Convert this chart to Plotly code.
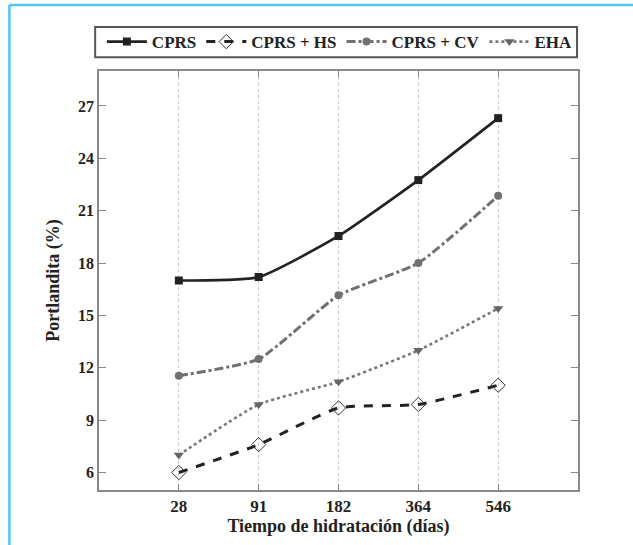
import plotly.graph_objects as go

categories = ["28", "91", "182", "364", "546"]
cprs = [17.0, 17.2, 19.55, 22.75, 26.3]
cprs_hs = [6.0, 7.6, 9.7, 9.9, 11.0]
cprs_cv = [11.55, 12.5, 16.15, 18.0, 21.85]
eha = [7.0, 9.9, 11.2, 13.0, 15.4]
y_ticks = [6, 9, 12, 15, 18, 21, 24, 27]

FONT = "Liberation Serif"
fig = go.Figure()
fig.add_trace(go.Scatter(x=categories, y=cprs, name="CPRS", mode="lines+markers",
                         line=dict(color="#222222", width=2.6, shape="spline", smoothing=0.5),
                         marker=dict(symbol="square", size=8, color="#222222")))
fig.add_trace(go.Scatter(x=categories, y=cprs_hs, name="CPRS + HS", mode="lines+markers",
                         line=dict(color="#222222", width=3, dash="dash", shape="spline", smoothing=0.5),
                         marker=dict(symbol="diamond-open", size=11, color="#333333", line=dict(width=1))))
fig.add_trace(go.Scatter(x=categories, y=cprs_cv, name="CPRS + CV", mode="lines+markers",
                         line=dict(color="#707070", width=3, dash="dashdot", shape="spline", smoothing=0.5),
                         marker=dict(symbol="circle", size=8, color="#707070")))
fig.add_trace(go.Scatter(x=categories, y=eha, name="EHA", mode="lines+markers",
                         line=dict(color="#777777", width=2.6, dash="dot", shape="spline", smoothing=0.5),
                         marker=dict(symbol="triangle-down", size=9, color="#666666")))

fig.update_layout(
    width=633, height=545,
    margin=dict(l=99, r=55, t=71, b=55),
    paper_bgcolor="white", plot_bgcolor="white",
    font=dict(family=FONT, color="#222222", size=14, weight="bold"),
    legend=dict(orientation="h", x=0.006, xanchor="left", y=1.112, yanchor="top",
                borderwidth=0, bgcolor="rgba(0,0,0,0)",
                font=dict(family=FONT, size=17, weight="bold", color="#222222"),
                itemwidth=40),
    xaxis=dict(type="category", range=[-1, 5], showline=True, linecolor="#888888", linewidth=1.5,
               mirror="ticks", ticks="inside", ticklen=6, tickcolor="#888888",
               showgrid=True, gridcolor="#cccccc", griddash="dot", gridwidth=1,
               title=dict(text="Tiempo de hidratación (días)", standoff=4,
                          font=dict(size=18, weight="bold")),
               tickfont=dict(size=17, weight="bold")),
    yaxis=dict(range=[5, 29], tickvals=y_ticks, showline=True, linecolor="#888888", linewidth=1.5,
               mirror="ticks", ticks="inside", ticklen=7, tickcolor="#888888",
               showgrid=False, zeroline=False,
               title=dict(text="Portlandita (%)", standoff=14, font=dict(size=18, weight="bold")),
               tickfont=dict(size=16, weight="bold")),
    shapes=[dict(type="line", xref="paper", yref="paper", x0=-0.187, x1=-0.187, y0=-0.3, y1=1.1575,
                 line=dict(color="#4cc8f0", width=2.5)),
            dict(type="line", xref="paper", yref="paper", x0=-0.187, x1=1.3, y0=1.1575, y1=1.1575,
                 line=dict(color="#4cc8f0", width=2.5)),
            dict(type="rect", xref="paper", yref="paper", x0=-0.008, x1=0.998, y0=1.033, y1=1.105,
                 line=dict(color="#555555", width=2), fillcolor="rgba(0,0,0,0)")],
)
fig.write_html("out.html")
